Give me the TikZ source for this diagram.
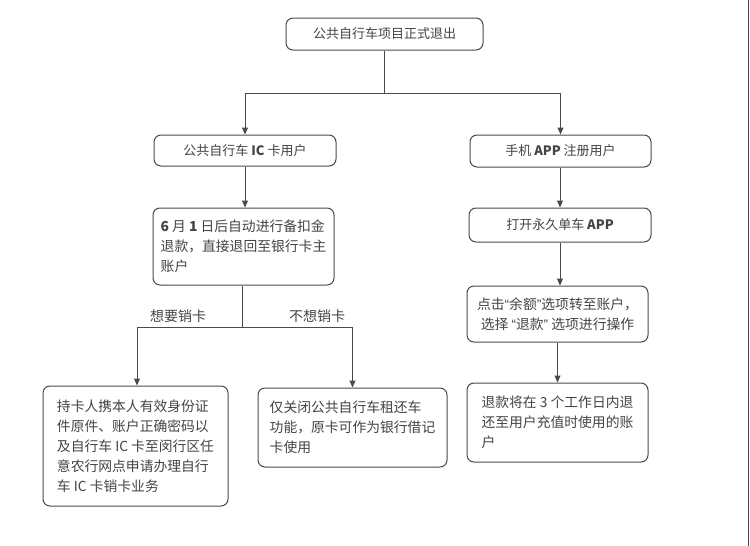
\documentclass[tikz,border=0pt]{standalone}
\usepackage{fontspec}
\setmainfont{Noto Sans CJK SC}
\newfontfamily\latq{Liberation Sans}
\usetikzlibrary{arrows.meta}
\definecolor{ln}{HTML}{4A4A4A}
\definecolor{tx}{HTML}{444444}
\newcommand{\myLq}{{\latq “}}
\newcommand{\myRq}{{\latq ”}}
\tikzset{
 box/.style={draw=ln, line width=1pt, rounded corners=7pt, text=tx, inner sep=0pt, font=\fontsize{13pt}{20pt}\selectfont},
 multi/.style={box, align=left, font=\fontsize{13.8pt}{20pt}\selectfont},
 multic/.style={box, align=center, font=\fontsize{13.8pt}{20pt}\selectfont},
 arr/.style={draw=ln, line width=1pt, -{Triangle[length=7pt,width=6pt]}},
 conn/.style={draw=ln, line width=1pt},
 lbl/.style={text=tx, inner sep=0pt, font=\fontsize{14pt}{16pt}\selectfont}
}
\begin{document}
\begin{tikzpicture}[x=1pt,y=-1pt]
\useasboundingbox[fill=white] (0,0) rectangle (750,546);
% boxes
\node[box, minimum width=197pt, minimum height=32pt] (top) at (384.5,34) {公共自行车项目正式退出};
\node[box, minimum width=182pt, minimum height=31pt] (ic) at (245,150.5) {公共自行车 \textbf{IC} 卡用户};
\node[box, minimum width=181pt, minimum height=32pt] (app) at (560.5,151) {手机 \textbf{APP} 注册用户};
\node[multi, minimum width=181pt, minimum height=77pt] (auto) at (243.5,246.5) {{\bfseries 6} 月 {\bfseries 1} 日后自动进行备扣金\\退款，直接退回至银行卡主\\账户};
\node[box, minimum width=182pt, minimum height=34pt] (open) at (560,225) {打开永久单车 \textbf{APP}};
\node[multic, minimum width=181pt, minimum height=56pt] (click) at (557.5,314) {点击\myLq 余额\myRq 选项转至账户，\\选择 \myLq 退款\myRq{} 选项进行操作};
\node[multi, minimum width=185pt, minimum height=120pt] (left) at (135.5,446) {持卡人携本人有效身份证\\件原件、账户正确密码以\\及自行车 IC 卡至闵行区任\\意农行网点申请办理自行\\车 IC 卡销卡业务};
\node[multi, minimum width=189pt, minimum height=79pt] (mid) at (352.5,427.5) {仅关闭公共自行车租还车\\功能，原卡可作为银行借记\\卡使用};
\node[multi, minimum width=181pt, minimum height=79pt] (right) at (557.5,422.5) {退款将在 3 个工作日内退\\还至用户充值时使用的账\\户};
% junctions
\coordinate (j1) at (384.5,93);
\coordinate (j2) at (242,327);
% connectors
\draw[conn] (top.south) -- (j1);
\draw[arr] (j1) -| (ic.north);
\draw[arr] (j1) -| (app.north);
\draw[arr] (ic.south) -- (ic.south |- auto.north);
\draw[conn] (auto.south -| j2) -- (j2);
\draw[arr] (j2) -| ([xshift=1.5pt]left.north);
\draw[arr] (j2) -| (mid.north);
\draw[arr] (app.south -| open.north) -- (open.north);
\draw[arr] (open.south) -- (open.south |- click.north);
\draw[arr] (click.south) -- (click.south |- right.north);
% labels
\node[lbl] (want) at (178,316) {想要销卡};
\node[lbl] (nowant) at (317,316) {不想销卡};
% scan edge
\draw[draw=ln, line width=1.2pt] (748.5,0) -- (748.5,546);
\end{tikzpicture}
\end{document}
